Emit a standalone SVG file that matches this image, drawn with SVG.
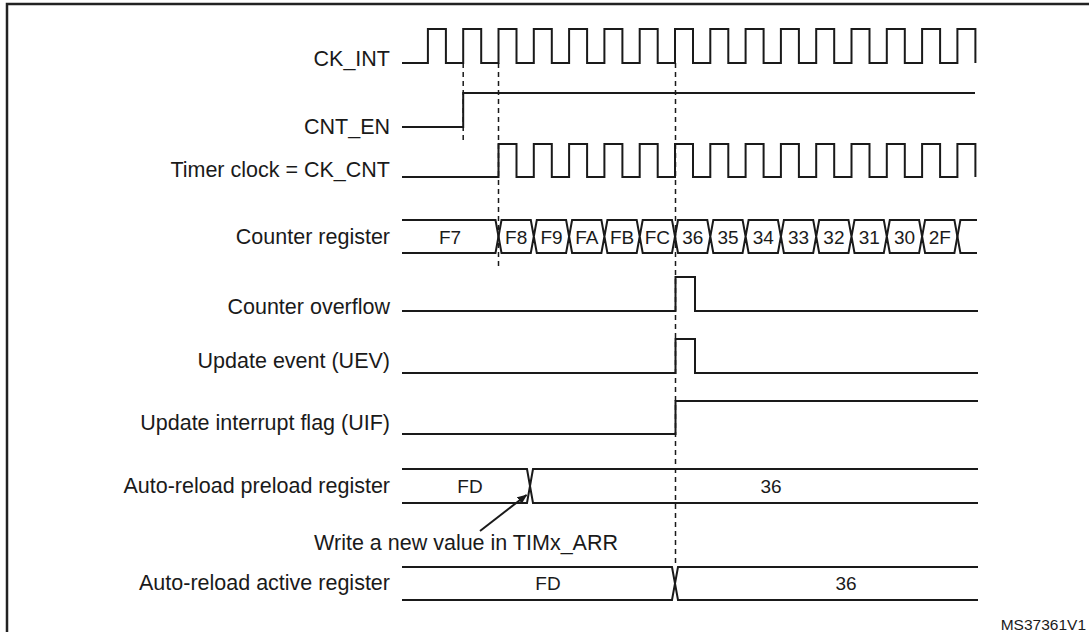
<svg xmlns="http://www.w3.org/2000/svg" width="1089" height="632" viewBox="0 0 1089 632">
<style>
.w{fill:none;stroke:#1a1a1a;stroke-width:2}
.d{fill:none;stroke:#1a1a1a;stroke-width:1.5;stroke-dasharray:5,4}
.lb{font-family:"Liberation Sans",Arial,sans-serif;font-size:21.5px;fill:#1a1a1a;text-anchor:end}
.v{font-family:"Liberation Sans",Arial,sans-serif;font-size:19px;fill:#1a1a1a;text-anchor:middle}
</style>
<defs>
<marker id="ah" markerWidth="10" markerHeight="8" refX="9" refY="4" orient="auto" markerUnits="userSpaceOnUse">
<path d="M0,0 L10,4 L0,8 Z" fill="#1a1a1a"/>
</marker>
</defs>
<rect width="1089" height="632" fill="#fff"/>
<path d="M7,632 V4 H1089" fill="none" stroke="#222" stroke-width="2.5"/>

<g id="ck_int">
<text class="lb" x="390" y="66">CK_INT</text>
<path class="w" d="M402,63 H427.9 V29 H445.9 V63 H463.2 V29 H481.2 V63 H498.5 V29 H516.5 V63 H533.8 V29 H551.8 V63 H569.1 V29 H587.1 V63 H604.4 V29 H622.4 V63 H639.7 V29 H657.7 V63 H675 V29 H693 V63 H710.3 V29 H728.3 V63 H745.6 V29 H763.6 V63 H780.9 V29 H798.9 V63 H816.2 V29 H834.2 V63 H851.5 V29 H869.5 V63 H886.8 V29 H904.8 V63 H922.1 V29 H940.1 V63 H957.4 V29 H975.4 V63"/>
</g>
<g id="cnt_en">
<text class="lb" x="390" y="134">CNT_EN</text>
<path class="w" d="M402,127 H463.2 V93 H975"/>
</g>
<g id="ck_cnt">
<text class="lb" x="390" y="177">Timer clock = CK_CNT</text>
<path class="w" d="M402,177 H498.5 V144 H516.5 V177 H533.8 V144 H551.8 V177 H569.1 V144 H587.1 V177 H604.4 V144 H622.4 V177 H639.7 V144 H657.7 V177 H675 V144 H693 V177 H710.3 V144 H728.3 V177 H745.6 V144 H763.6 V177 H780.9 V144 H798.9 V177 H816.2 V144 H834.2 V177 H851.5 V144 H869.5 V177 H886.8 V144 H904.8 V177 H922.1 V144 H940.1 V177 H957.4 V144 H975.4 V177"/>
</g>
<g id="counter">
<text class="lb" x="390" y="244">Counter register</text>
<path class="w" d="M402,220 H495.5 L498.5,236.5 L495.5,253 H402"/>
<path class="w" d="M501.5,220 H530.8 L533.8,236.5 L530.8,253 H501.5 L498.5,236.5 Z
M536.8,220 H566.1 L569.1,236.5 L566.1,253 H536.8 L533.8,236.5 Z
M572.1,220 H601.4 L604.4,236.5 L601.4,253 H572.1 L569.1,236.5 Z
M607.4,220 H636.7 L639.7,236.5 L636.7,253 H607.4 L604.4,236.5 Z
M642.7,220 H672 L675,236.5 L672,253 H642.7 L639.7,236.5 Z
M678,220 H707.3 L710.3,236.5 L707.3,253 H678 L675,236.5 Z
M713.3,220 H742.6 L745.6,236.5 L742.6,253 H713.3 L710.3,236.5 Z
M748.6,220 H777.9 L780.9,236.5 L777.9,253 H748.6 L745.6,236.5 Z
M783.9,220 H813.2 L816.2,236.5 L813.2,253 H783.9 L780.9,236.5 Z
M819.2,220 H848.5 L851.5,236.5 L848.5,253 H819.2 L816.2,236.5 Z
M854.5,220 H883.8 L886.8,236.5 L883.8,253 H854.5 L851.5,236.5 Z
M889.8,220 H919.1 L922.1,236.5 L919.1,253 H889.8 L886.8,236.5 Z
M925.1,220 H954.4 L957.4,236.5 L954.4,253 H925.1 L922.1,236.5 Z"/>
<path class="w" d="M977,220 H960.4 L957.4,236.5 L960.4,253 H977"/>
<text class="v" x="450" y="243.5">F7</text>
<text class="v" x="516.2" y="243.5">F8</text>
<text class="v" x="551.5" y="243.5">F9</text>
<text class="v" x="586.8" y="243.5">FA</text>
<text class="v" x="622.1" y="243.5">FB</text>
<text class="v" x="657.4" y="243.5">FC</text>
<text class="v" x="692.7" y="243.5">36</text>
<text class="v" x="728" y="243.5">35</text>
<text class="v" x="763.3" y="243.5">34</text>
<text class="v" x="798.6" y="243.5">33</text>
<text class="v" x="833.9" y="243.5">32</text>
<text class="v" x="869.2" y="243.5">31</text>
<text class="v" x="904.5" y="243.5">30</text>
<text class="v" x="939.8" y="243.5">2F</text>
</g>
<g id="overflow">
<text class="lb" x="390" y="314">Counter overflow</text>
<path class="w" d="M402,311 H675.5 V277 H695 V311 H978"/>
</g>
<g id="uev">
<text class="lb" x="390" y="368">Update event (UEV)</text>
<path class="w" d="M402,373 H675.5 V339 H695 V373 H978"/>
</g>
<g id="uif">
<text class="lb" x="390" y="430">Update interrupt flag (UIF)</text>
<path class="w" d="M402,434 H675.5 V401 H978"/>
</g>
<g id="preload">
<text class="lb" x="390" y="493">Auto-reload preload register</text>
<path class="w" d="M402,469 H527 L533,503 H978 M402,503 H527 L533,469 H978"/>
<text class="v" x="470" y="493">FD</text>
<text class="v" x="771" y="493">36</text>
</g>
<g id="note">
<text class="lb" x="618" y="550">Write a new value in TIMx_ARR</text>
</g>
<g id="active">
<text class="lb" x="390" y="590">Auto-reload active register</text>
<path class="w" d="M402,567 H672 L678,600 H978 M402,600 H672 L678,567 H978"/>
<text class="v" x="548" y="590">FD</text>
<text class="v" x="846" y="590">36</text>
</g>
<g id="connectors">
<path class="d" d="M463.2,63 V142"/>
<path class="d" d="M498.5,63 V270"/>
<path class="d" d="M675.5,63 V567"/>
<path d="M480,531 L526.5,495" stroke="#1a1a1a" stroke-width="2" fill="none" marker-end="url(#ah)"/>
</g>
<text x="1086" y="630" font-family="'Liberation Sans',Arial,sans-serif" font-size="15.5" fill="#1a1a1a" text-anchor="end">MS37361V1</text>
</svg>
